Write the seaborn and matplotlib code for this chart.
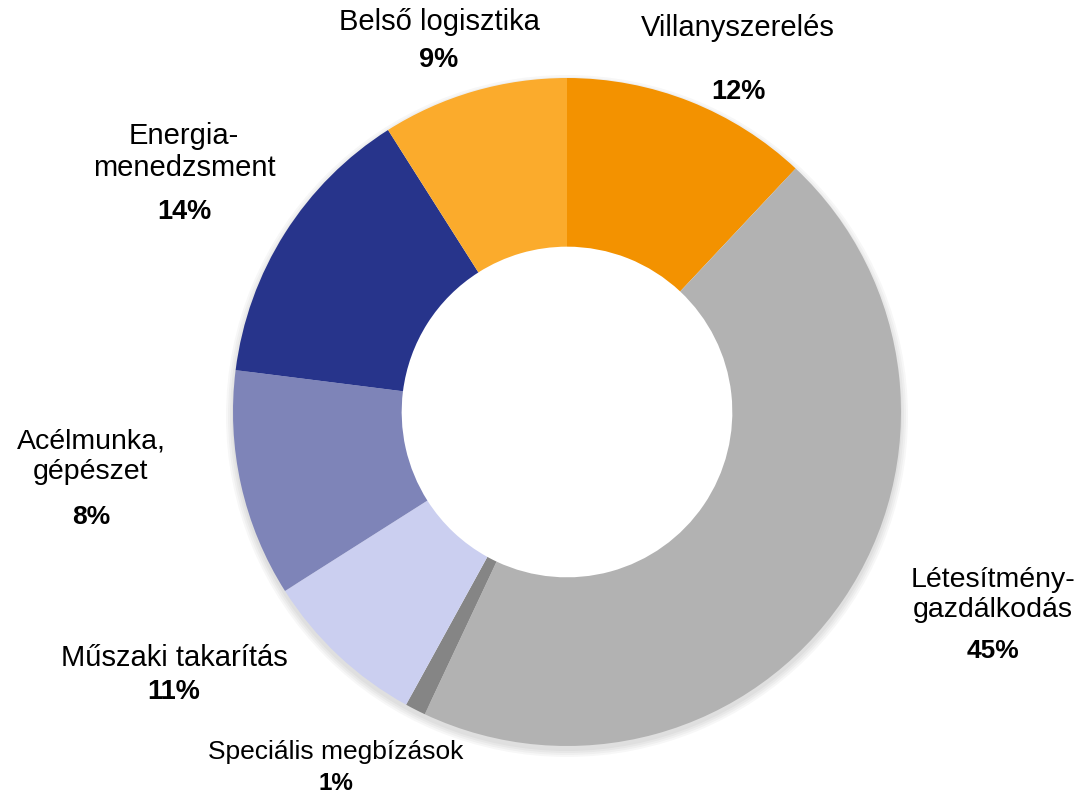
import matplotlib
matplotlib.use('Agg')
import matplotlib.pyplot as plt
import seaborn as sns

# Adatok (szeletek az óramutató járásával, felülről indulva)
categories = ['Villanyszerelés', 'Létesítmény-\ngazdálkodás', 'Speciális megbízások',
              'Műszaki takarítás', 'Acélmunka,\ngépészet', 'Energia-\nmenedzsment',
              'Belső logisztika']
values = [12, 45, 1, 8, 11, 14, 9]
pct_labels = ['12%', '45%', '1%', '11%', '8%', '14%', '9%']
colors = ['#F39200', '#B2B2B2', '#858585', '#CBCFF0', '#7E84B8', '#27348B', '#FBAB2C']

# label helyek (pixel, kozep x, nev y, szazalek y, betumeret)
label_pos = [(738, 28, 92, 21), (993, 595, 651, 20.5), (336, 752, 783, 19),
             (174, 658, 692, 21), (91, 457, 517, 20.5), (184, 152, 212, 21),
             (439, 22, 60, 21)]

sns.set_theme(style='white')
plt.rcParams['font.family'] = ['Liberation Sans', 'DejaVu Sans']

W, H = 1084, 795
fig = plt.figure(figsize=(W / 100, H / 100), dpi=100)
ax = fig.add_axes([0, 0, 1, 1])
ax.set_xlim(0, W)
ax.set_ylim(0, H)
ax.axis('off')

cx, cy, r = 567, H - 412, 334

# halvany arnyek
for i in range(4):
    ax.pie([1], radius=r + 1 + 2 * i, center=(cx, cy - 4), colors=['#000000'],
           wedgeprops=dict(width=12 + 4 * i, alpha=0.03, linewidth=0))

ax.pie(values, radius=r, center=(cx, cy), colors=colors, startangle=90,
       counterclock=False, wedgeprops=dict(width=r * 0.505, linewidth=0))
ax.set_xlim(0, W)
ax.set_ylim(0, H)
ax.set_aspect('equal')

for name, pct, (x, yn, yp, fs) in zip(categories, pct_labels, label_pos):
    ax.text(x, H - yn, name, ha='center', va='center', fontsize=fs,
            color='#000000', linespacing=1.2)
    ax.text(x, H - yp, pct, ha='center', va='center', fontsize=fs - 1.5,
            fontweight='bold', color='#000000')

fig.savefig('out.png', dpi=100, facecolor='white')
